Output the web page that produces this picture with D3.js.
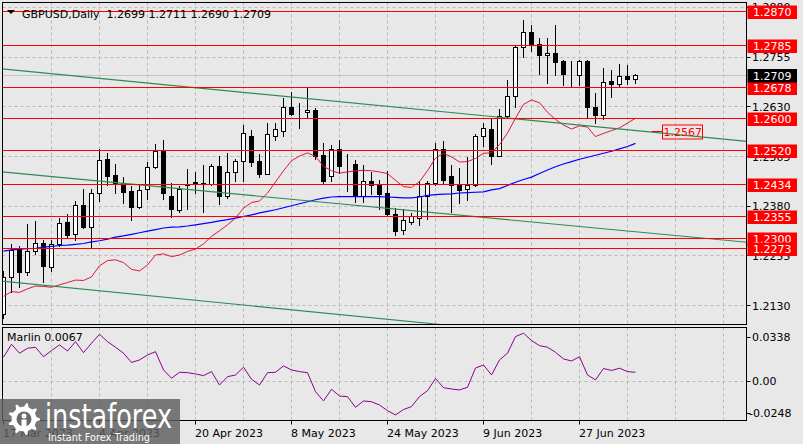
<!DOCTYPE html>
<html><head><meta charset="utf-8">
<script src="https://cdn.jsdelivr.net/npm/d3@7"></script>
<style>body{margin:0;background:#e8e8e8;overflow:hidden}svg{display:block}text{font-family:"DejaVu Sans",sans-serif}</style>
</head><body><svg id="c" width="803" height="444"></svg>
<script>
// ---------- DATA ----------
const symbolTitle = "GBPUSD,Daily  1.2699 1.2711 1.2690 1.2709";
const open = [1.2108,1.2202,1.2271,1.2214,1.2265,1.2286,1.2227,1.2283,1.2339,1.2308,
1.2381,1.2326,1.2411,1.2497,1.2457,1.2437,1.2417,1.2378,1.2421,1.2478,
1.2519,1.2405,1.2369,1.2433,1.2439,1.2437,1.2435,1.2480,1.2405,1.2464,
1.2493,1.2556,1.2493,1.2461,1.2556,1.2569,1.2628,1.2617,1.2615,1.2621,
1.2508,1.2456,1.2522,1.2482,1.2485,1.2405,1.2441,1.2432,1.2411,1.2359,
1.2319,1.2338,1.2349,1.2405,1.2437,1.2522,1.2455,1.2432,1.2421,1.2432,
1.2556,1.2573,1.2506,1.2606,1.2657,1.2779,1.2816,1.2787,1.2759,1.2765,
1.2743,1.2706,1.2709,1.2743,1.2629,1.2608,1.2694,1.2686,1.2707,1.2699];
const high = [1.2216,1.2284,1.2279,1.2334,1.2342,1.2294,1.2294,1.2349,1.2359,1.2392,
1.2423,1.2422,1.2522,1.2512,1.2485,1.2453,1.2430,1.2432,1.2491,1.2535,
1.2545,1.2437,1.2430,1.2473,1.2464,1.2483,1.2485,1.2506,1.2512,1.2498,
1.2583,1.2571,1.2510,1.2588,1.2588,1.2650,1.2667,1.2638,1.2676,1.2625,
1.2538,1.2533,1.2545,1.2510,1.2495,1.2483,1.2466,1.2445,1.2468,1.2374,
1.2372,1.2361,1.2441,1.2442,1.2539,1.2543,1.2483,1.2474,1.2502,1.2561,
1.2589,1.2598,1.2623,1.2696,1.2783,1.2846,1.2835,1.2801,1.2801,1.2835,
1.2747,1.2743,1.2747,1.2747,1.2663,1.2726,1.2722,1.2736,1.2734,1.2711];
const low = [1.2098,1.2164,1.2176,1.2206,1.2259,1.2189,1.2216,1.2279,1.2301,1.2294,
1.2323,1.2275,1.2392,1.2432,1.2411,1.2388,1.2344,1.2375,1.2396,1.2474,
1.2396,1.2351,1.2365,1.2372,1.2411,1.2365,1.2432,1.2384,1.2400,1.2443,
1.2443,1.2480,1.2453,1.2459,1.2545,1.2556,1.2608,1.2575,1.2603,1.2498,
1.2437,1.2442,1.2463,1.2418,1.2390,1.2390,1.2410,1.2371,1.2357,1.2307,
1.2309,1.2334,1.2332,1.2346,1.2432,1.2438,1.2365,1.2388,1.2395,1.2430,
1.2530,1.2485,1.2504,1.2603,1.2628,1.2755,1.2768,1.2711,1.2688,1.2709,
1.2684,1.2681,1.2684,1.2604,1.2589,1.2598,1.2654,1.2681,1.2686,1.2690];
const close = [1.2201,1.2269,1.2214,1.2266,1.2286,1.2229,1.2283,1.2336,1.2307,1.2381,
1.2327,1.2411,1.2494,1.2456,1.2437,1.2414,1.2378,1.2420,1.2478,1.2518,
1.2411,1.2371,1.2421,1.2435,1.2435,1.2435,1.2480,1.2405,1.2464,1.2493,
1.2562,1.2491,1.2461,1.2560,1.2573,1.2628,1.2611,1.2616,1.2621,1.2506,
1.2443,1.2522,1.2481,1.2483,1.2405,1.2442,1.2432,1.2409,1.2359,1.2317,
1.2344,1.2353,1.2405,1.2437,1.2522,1.2445,1.2432,1.2420,1.2432,1.2556,
1.2576,1.2506,1.2606,1.2657,1.2779,1.2818,1.2786,1.2758,1.2765,1.2741,
1.2711,1.2707,1.2743,1.2629,1.2608,1.2691,1.2686,1.2707,1.2699,1.2709];
const maFast = [1.2152,1.2164,1.2162,1.2171,1.2178,1.2177,1.2175,1.2181,1.2187,1.2193,
1.2192,1.2201,1.2229,1.2242,1.2244,1.2237,1.2220,1.2216,1.2231,1.2256,
1.2259,1.2252,1.2256,1.2265,1.2271,1.2284,1.2303,1.2317,1.2332,1.2349,
1.2374,1.2388,1.2392,1.2412,1.2440,1.2468,1.2493,1.2505,1.2513,1.2504,
1.2479,1.2468,1.2462,1.2465,1.2468,1.2469,1.2468,1.2465,1.2461,1.2444,
1.2428,1.2426,1.2441,1.2468,1.2500,1.2512,1.2503,1.2490,1.2491,1.2499,
1.2512,1.2513,1.2534,1.2563,1.2600,1.2635,1.2646,1.2639,1.2615,1.2597,
1.2583,1.2573,1.2581,1.2578,1.2554,1.2562,1.2569,1.2576,1.2588,1.2600];
const maSlow = [1.2266,1.2269,1.2271,1.2272,1.2273,1.2276,1.2278,1.2280,1.2281,1.2283,
1.2285,1.2289,1.2292,1.2296,1.2301,1.2304,1.2308,1.2312,1.2316,1.2320,
1.2324,1.2326,1.2327,1.2329,1.2332,1.2335,1.2338,1.2342,1.2345,1.2349,
1.2353,1.2357,1.2362,1.2366,1.2370,1.2375,1.2380,1.2385,1.2390,1.2395,
1.2399,1.2402,1.2403,1.2403,1.2403,1.2403,1.2403,1.2403,1.2402,1.2401,
1.2400,1.2400,1.2402,1.2406,1.2408,1.2409,1.2410,1.2412,1.2413,1.2414,
1.2415,1.2420,1.2423,1.2431,1.2439,1.2446,1.2452,1.2461,1.2470,1.2478,
1.2485,1.2491,1.2497,1.2502,1.2507,1.2512,1.2517,1.2523,1.2529,1.2537];
const marlin = [0.0183,0.0283,0.0214,0.0252,0.0260,0.0187,0.0234,0.0278,0.0231,0.0303,
0.0218,0.0291,0.0360,0.0303,0.0260,0.0214,0.0143,0.0162,0.0200,0.0226,
0.0085,0.0021,0.0067,0.0064,0.0054,0.0041,0.0072,-0.0031,0.0033,0.0046,
0.0106,0.0013,-0.0031,0.0064,0.0067,0.0116,0.0085,0.0072,0.0064,-0.0082,
-0.0154,-0.0064,-0.0116,-0.0121,-0.0203,-0.0154,-0.0160,-0.0185,-0.0229,-0.0262,
-0.0220,-0.0198,-0.0120,-0.0075,0.0019,-0.0052,-0.0062,-0.0069,-0.0049,0.0100,
0.0123,0.0046,0.0162,0.0214,0.0342,0.0368,0.0312,0.0272,0.0260,0.0221,
0.0170,0.0154,0.0187,0.0046,0.0008,0.0096,0.0081,0.0098,0.0072,0.0067];
const levels = [1.2870,1.2785,1.2678,1.2600,1.2520,1.2434,1.2355,1.2300,1.2273];
const priceTicks = [1.2880,1.2755,1.2630,1.2505,1.2380,1.2255,1.2130];
const marlinTicks = [0.0338,0,-0.0248];
const marlinTickLabels = ["0.0338","0.00","-0.0248"];
const dateTickIdx = [0,12,24,36,48,60,72];
const dateTickLabels = ["17 Mar 2023","4 Apr 2023","20 Apr 2023","8 May 2023","24 May 2023","9 Jun 2023","27 Jun 2023"];
const trendLines = [[[0,1.2724],[93,1.2542]],[[0,1.2465],[93,1.2288]],[[0,1.2190],[93,1.2005]]];
const lastPrice = 1.2709;
const trendLabel = {from:81.1, at:82.4, price:1.2567};
const marlinName = "Marlin 0.0067";

// ---------- LAYOUT ----------
const svg = d3.select("#c");
const W=803,H=444;
const L=2.5,R=746.5,T=2.5,B=324.5,MT=327.5,MB=420.5;
const x = d3.scaleLinear().domain([0,93]).range([3,747]);
const y = d3.scaleLinear().domain([1.2080,1.2890]).range([325,3]);
const ym = d3.scaleLinear().domain([-0.0301,0.0416]).range([420,327]);
const crisp = v => Math.round(v)+0.5;
const BG="#e8e8e8", GRID="#b8b8b8";

svg.append("rect").attr("width",W).attr("height",H).attr("fill",BG);
const defs=svg.append("defs");
defs.append("clipPath").attr("id","cm").append("rect").attr("x",L).attr("y",T).attr("width",R-L).attr("height",B-T);
defs.append("clipPath").attr("id","cs").append("rect").attr("x",L).attr("y",MT).attr("width",R-L).attr("height",MB-MT);

const main = svg.append("g").attr("clip-path","url(#cm)");
const sub = svg.append("g").attr("clip-path","url(#cs)");

// grid
const vIdx = d3.range(6,93,6);
[main,sub].forEach((g,k)=>{
  g.selectAll(null).data(vIdx).join("line")
   .attr("x1",d=>crisp(x(d))).attr("x2",d=>crisp(x(d)))
   .attr("y1",k?MT:T).attr("y2",k?MB:B)
   .attr("stroke",GRID).attr("stroke-dasharray","3,3");
});
main.selectAll(null).data(priceTicks).join("line")
  .attr("x1",L).attr("x2",R).attr("y1",d=>crisp(y(d))).attr("y2",d=>crisp(y(d)))
  .attr("stroke",GRID).attr("stroke-dasharray","3,3");
sub.append("line").attr("x1",L).attr("x2",R).attr("y1",crisp(ym(0))).attr("y2",crisp(ym(0)))
  .attr("stroke",GRID).attr("stroke-dasharray","3,3");

// current price line
main.append("line").attr("x1",L).attr("x2",R).attr("y1",crisp(y(lastPrice))).attr("y2",crisp(y(lastPrice)))
  .attr("stroke","#c4c4c4");

// title
svg.append("path").attr("d","M7,10 L15,10 L11,14 Z").attr("fill","#000");
svg.append("text").attr("x",22).attr("y",17.5).attr("font-size",11).attr("fill","#000")
  .attr("xml:space","preserve").style("white-space","pre").text(symbolTitle);

// candles
const idx = d3.range(open.length);
const cg = main.append("g").attr("shape-rendering","crispEdges");
cg.selectAll(null).data(idx).join("line")
  .attr("x1",i=>x(i)+0.5).attr("x2",i=>x(i)+0.5)
  .attr("y1",i=>Math.round(y(high[i]))).attr("y2",i=>Math.round(y(low[i]))+1)
  .attr("stroke","#000");
cg.selectAll(null).data(idx).join("rect")
  .attr("x",i=>x(i)-1.5).attr("width",4)
  .attr("y",i=>Math.round(y(Math.max(open[i],close[i])))+0.5)
  .attr("height",i=>Math.max(0,Math.round(y(Math.min(open[i],close[i])))-Math.round(y(Math.max(open[i],close[i])))))
  .attr("fill",i=>close[i]>=open[i]?"#fff":"#000").attr("stroke","#000");

// moving averages
const lineGen = d3.line().x((d,i)=>x(i)+0.5).y(d=>y(d));
main.append("path").attr("d",lineGen(maSlow)).attr("fill","none").attr("stroke","#0000ff").attr("stroke-width",1.2);
main.append("path").attr("d",lineGen(maFast)).attr("fill","none").attr("stroke","#e0143c").attr("stroke-width",1);

// trend lines
main.selectAll(null).data(trendLines).join("line")
  .attr("x1",d=>x(d[0][0])-4).attr("y1",d=>y(d[0][1]+(d[0][1]-d[1][1])/(d[1][0]-d[0][0])*0.5))
  .attr("x2",d=>x(d[1][0])).attr("y2",d=>y(d[1][1]))
  .attr("stroke","#2e8b57").attr("stroke-width",1.1);

// level lines
main.selectAll(null).data(levels).join("line")
  .attr("x1",L).attr("x2",R).attr("y1",d=>crisp(y(d))).attr("y2",d=>crisp(y(d)))
  .attr("stroke","#ff0000").attr("stroke-width",1.1);

// trend label
const tly = crisp(y(trendLabel.price));
main.append("line").attr("x1",x(trendLabel.from)).attr("x2",x(trendLabel.at)).attr("y1",tly).attr("y2",tly).attr("stroke","#ff0000");
main.append("rect").attr("x",crisp(x(trendLabel.at))).attr("y",tly-6.5).attr("width",40).attr("height",14)
  .attr("fill","none").attr("stroke","#ff0000");
main.append("text").attr("x",x(trendLabel.at)+20.5).attr("y",tly+0.5).attr("dy","0.36em").attr("text-anchor","middle")
  .attr("font-size",11).attr("fill","#ff0000").text(trendLabel.price.toFixed(4));

// marlin
sub.append("path").attr("d",d3.line().x((d,i)=>x(i)+0.5).y(d=>ym(d))(marlin))
  .attr("fill","none").attr("stroke","#8b008b").attr("stroke-width",1);
svg.append("text").attr("x",7).attr("y",341).attr("font-size",11).attr("fill","#000").text(marlinName);

// pane borders
svg.append("rect").attr("x",L).attr("y",T).attr("width",R-L).attr("height",B-T).attr("fill","none").attr("stroke","#000");
svg.append("rect").attr("x",L).attr("y",MT).attr("width",R-L).attr("height",MB-MT).attr("fill","none").attr("stroke","#000");

// price axis
const ax = svg.append("g");
ax.selectAll(null).data(priceTicks).join("line")
  .attr("x1",R).attr("x2",R+4).attr("y1",d=>crisp(y(d))).attr("y2",d=>crisp(y(d))).attr("stroke","#000");
ax.selectAll(null).data(priceTicks).join("text")
  .attr("x",752).attr("y",d=>y(d)+0.5).attr("dy","0.36em").attr("font-size",11).attr("fill","#000")
  .text(d=>d.toFixed(4));
// level labels
levels.forEach(v=>{
  const yy=crisp(y(v));
  ax.append("rect").attr("x",747.5).attr("y",yy-6).attr("width",49.5).attr("height",13.5).attr("fill","#ff0000");
  ax.append("text").attr("x",753).attr("y",yy+1).attr("dy","0.36em").attr("font-size",11).attr("fill","#fff").text(v.toFixed(4));
});
{
  const yy=crisp(y(lastPrice));
  ax.append("rect").attr("x",747.5).attr("y",yy-6.5).attr("width",49.5).attr("height",13.5).attr("fill","#000");
  ax.append("text").attr("x",753).attr("y",yy+0.5).attr("dy","0.36em").attr("font-size",11).attr("fill","#fff").text(lastPrice.toFixed(4));
}
// marlin axis
marlinTicks.forEach((v,k)=>{
  const yy=crisp(ym(v));
  ax.append("line").attr("x1",R).attr("x2",R+4).attr("y1",yy).attr("y2",yy).attr("stroke","#000");
  ax.append("text").attr("x",v<0?749:752).attr("y",yy).attr("dy","0.36em").attr("font-size",11).attr("fill","#000").text(marlinTickLabels[k]);
});
// date axis
dateTickIdx.forEach((i,k)=>{
  ax.append("line").attr("x1",crisp(x(i))).attr("x2",crisp(x(i))).attr("y1",MB).attr("y2",MB+4).attr("stroke","#000");
  ax.append("text").attr("x",x(i)).attr("y",437).attr("font-size",11).attr("fill","#000").text(dateTickLabels[k]);
});

// logo
const lg = svg.append("g");
lg.append("rect").attr("x",0).attr("y",399).attr("width",180).attr("height",45).attr("fill","#5e5e5e").attr("opacity",0.82);
const cx=24, cy=419, n=9, ro=16, ri=12.5;
let p="";
for(let k=0;k<n;k++){
  const a0=(k/n)*2*Math.PI, a1=a0+Math.PI/n*0.55, a2=a0+Math.PI/n, a3=a2+Math.PI/n*0.45, aM=a0-Math.PI/n*0.45;
  const pt=(r,a)=>[cx+r*Math.cos(a),cy+r*Math.sin(a)];
  const q=[pt(ri,aM),pt(ro,aM+0.12),pt(ro,a1-0.12),pt(ri,a1)];
  p+=(k?"L":"M")+q.map(c=>c.join(",")).join("L");
}
p+="Z";
lg.append("path").attr("d",p).attr("fill","#fff");
lg.append("circle").attr("cx",cx).attr("cy",cy).attr("r",7.5).attr("fill","#6a6a6a");
lg.append("circle").attr("cx",cx).attr("cy",cy-3).attr("r",2.5).attr("fill","#fff");
lg.append("rect").attr("x",cx-2.5).attr("y",cy+0.5).attr("width",5).attr("height",8).attr("fill","#fff");
lg.append("text").attr("x",45).attr("y",428).attr("font-size",33).attr("fill","#fff")
  .attr("font-family","Open Sans, sans-serif").attr("textLength",127).attr("lengthAdjust","spacingAndGlyphs").text("instaforex");
lg.append("text").attr("x",48).attr("y",441).attr("font-size",11).attr("fill","#fff")
  .attr("textLength",102).attr("lengthAdjust","spacingAndGlyphs").text("Instant Forex Trading");
</script></body></html>
